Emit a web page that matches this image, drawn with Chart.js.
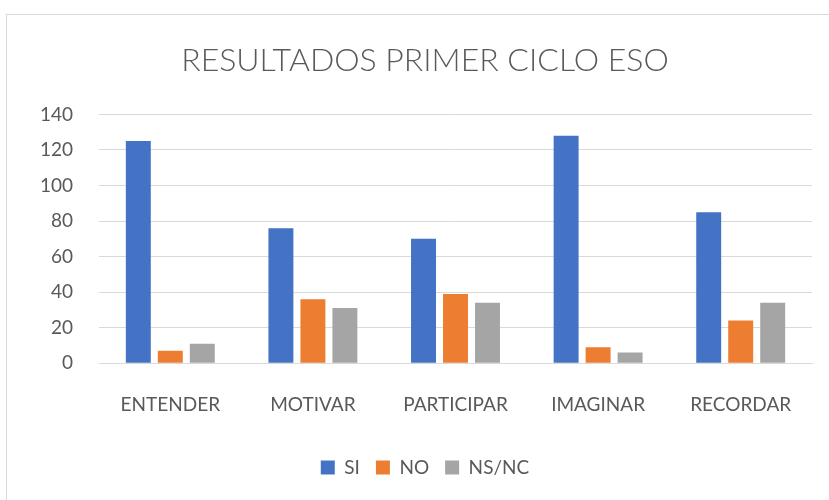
<!DOCTYPE html>
<html>
<head>
<meta charset="utf-8">
<script src="https://cdn.jsdelivr.net/npm/chart.js@4"></script>
<style>
  html, body { margin: 0; padding: 0; background: #fff; }
  #wrap { position: relative; width: 829px; height: 500px; overflow: hidden; }
  #frame { position: absolute; left: 6px; top: 14px; width: 900px; height: 600px; border: 1px solid #d9d9d9; }
  canvas { position: absolute; left: 0; top: 0; }
</style>
</head>
<body>
<div id="wrap">
  <div id="frame"></div>
  <canvas id="chart" width="829" height="500"></canvas>
</div>
<script>
const categories = ['ENTENDER', 'MOTIVAR', 'PARTICIPAR', 'IMAGINAR', 'RECORDAR'];
const si = [125, 76, 70, 128, 85];
const no = [7, 36, 39, 9, 24];
const nsnc = [11, 31, 34, 6, 34];
const yTicks = [0, 20, 40, 60, 80, 100, 120, 140];

const textColor = '#595959';
const font = 'Lato, Open Sans, sans-serif';

const chart = new Chart(document.getElementById('chart'), {
  type: 'bar',
  data: {
    labels: categories,
    datasets: [
      { label: 'SI', data: si, backgroundColor: '#4472c4' },
      { label: 'NO', data: no, backgroundColor: '#ed7d31' },
      { label: 'NS/NC', data: nsnc, backgroundColor: '#a5a5a5' },
    ],
  },
  options: {
    responsive: false,
    animation: false,
    categoryPercentage: 0.673,
    barPercentage: 0.78,
    layout: { padding: { left: 38, right: 17, top: 0, bottom: 13 } },
    plugins: {
      title: {
        display: true,
        text: 'RESULTADOS PRIMER CICLO ESO',
        color: textColor,
        font: { family: font, size: 32, weight: 300 },
        padding: { top: 41, bottom: 35 },
      },
      legend: {
        position: 'bottom',
        labels: {
          color: textColor,
          font: { family: font, size: 19 },
          boxWidth: 14,
          boxHeight: 14,
          padding: 16,
        },
      },
      tooltip: { enabled: false },
    },
    scales: {
      x: {
        afterFit: (s) => { s.height += 4; },
        grid: { display: false },
        border: { color: '#d9d9d9' },
        ticks: { color: textColor, font: { family: font, size: 19 }, padding: 22 },
      },
      y: {
        min: 0,
        max: 140,
        afterBuildTicks: (s) => { s.ticks = yTicks.map(v => ({ value: v })); },
        afterFit: (s) => { s.width = 61; },
        grid: { color: '#d9d9d9', drawTicks: false },
        border: { display: false },
        ticks: { color: textColor, font: { family: font, size: 19 }, padding: 26 },
      },
    },
  },
});
</script>
</body>
</html>
